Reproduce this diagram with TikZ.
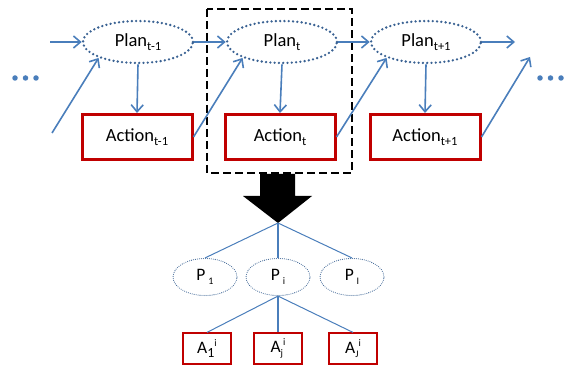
\documentclass[tikz,border=0pt]{standalone}
\usepackage{fontspec}
\setmainfont{Carlito}
\usetikzlibrary{shapes.geometric,arrows.meta}
\definecolor{arrblue}{HTML}{4A7EBB}
\definecolor{ellblue}{HTML}{3A6293}
\definecolor{boxred}{HTML}{C00000}
\newcommand\lo[1]{\raisebox{-0.5ex}{\fontsize{12.5pt}{12.5pt}\selectfont #1}}
\newcommand\mlo[1]{\raisebox{-0.45ex}{\fontsize{14pt}{14pt}\selectfont #1}}
\newcommand\slo[1]{\raisebox{-0.45ex}{\fontsize{10pt}{10pt}\selectfont #1}}
\newcommand\shi[1]{\raisebox{0.85ex}{\fontsize{10pt}{10pt}\selectfont #1}}
\tikzset{
  planbig/.style={ellipse, draw=ellblue, line width=2.6pt, dash pattern=on 0pt off 4.3pt, line cap=round,
     minimum width=110pt, minimum height=42pt, inner sep=0pt, font=\fontsize{18.5pt}{22pt}\selectfont},
  actbig/.style={rectangle, draw=boxred, line width=3pt, minimum width=110pt, minimum height=45pt,
     inner sep=0pt, font=\fontsize{18.5pt}{22pt}\selectfont},
  plansmall/.style={ellipse, draw=ellblue, line width=1.1pt, dash pattern=on 0pt off 2pt, line cap=round,
     minimum width=64pt, minimum height=37pt, inner sep=0pt, font=\fontsize{17.5pt}{20pt}\selectfont},
  actsmall/.style={rectangle, draw=boxred, line width=1.2pt, minimum width=48pt, minimum height=31pt,
     inner sep=0pt, font=\fontsize{17.5pt}{20pt}\selectfont},
  flow/.style={draw=arrblue, line width=1.6pt, -{Straight Barb[length=7pt,width=12pt,line width=1.6pt]}},
  tree/.style={draw=arrblue, line width=1pt},
  treev/.style={draw=arrblue, line width=1.8pt},
  dot/.style={circle, fill=arrblue, inner sep=0pt, minimum size=5.5pt},
}
\begin{document}
\begin{tikzpicture}[x=1pt,y=-1pt]
\useasboundingbox (0,0) rectangle (564,371);
% dashed box
\draw[black, line width=1.5pt, dash pattern=on 8pt off 4pt] (207,9) rectangle (352,173);
% top nodes
\node[planbig] (p1) at (138,42) {Plan\lo{t-1}};
\node[planbig] (p2) at (282,42) {Plan\lo{t}};
\node[planbig] (p3) at (426,42) {Plan\lo{t+1}};
\node[actbig] (a1) at (137,137) {Action\lo{t-1}};
\node[actbig] (a2) at (280,137) {Action\lo{t}};
\node[actbig] (a3) at (425,137) {Action\lo{t+1}};
% free ends
\coordinate (inh) at (50,42);
\coordinate (ind) at (52,133);
\coordinate (outh) at (515,42);
\coordinate (outd) at (530,57);
% connectors
\draw[flow] (inh) -- (p1.west);
\draw[flow] (ind) -- (p1.202);
\draw[flow] (p1.east) -- (p2.west);
\draw[flow] (p2.east) -- (p3.west);
\draw[flow] (p3.east) -- (outh);
\draw[flow] (p1.south) -- (a1.north);
\draw[flow] (p2.south) -- (a2.north);
\draw[flow] (p3.south) -- (a3.north);
\draw[flow] (a1.east) -- (p2.202);
\draw[flow] (a2.east) -- (p3.202);
\draw[flow] (a3.east) -- (outd);
% dots
\node[dot] (l1) at (15,78) {};
\node[dot] (l2) at (25.5,78) {};
\node[dot] (l3) at (36,78) {};
\node[dot] (r1) at (540,78) {};
\node[dot] (r2) at (550.5,78) {};
\node[dot] (r3) at (561,78) {};
% big arrow
\fill[black] (260,174) -- (295,174) -- (295,196) -- (312,196) -- (278,223) -- (243,196) -- (260,196) -- cycle;
\coordinate (apex) at (278,223);
% lower tree
\node[plansmall] (q1) at (205,277) {P\,\slo{1}};
\node[plansmall] (qi) at (278,277) {P\,\slo{i}};
\node[plansmall] (qI) at (352,277) {P\,\slo{I}};
\node[actsmall] (b1) at (207,348.5) {A\mlo{1}\shi{i}};
\node[actsmall] (bj) at (278,348.5) {A\slo{j}\shi{i}};
\node[actsmall] (bJ) at (353,348.5) {A\slo{J}\shi{i}};
\draw[tree] (apex) -- (q1.north);
\draw[treev] (apex) -- (qi.north);
\draw[tree] (apex) -- (qI.north);
\draw[tree] (qi.south) -- (b1.north);
\draw[treev] (qi.south) -- (bj.north);
\draw[tree] (qi.south) -- (bJ.north);
\end{tikzpicture}
\end{document}
